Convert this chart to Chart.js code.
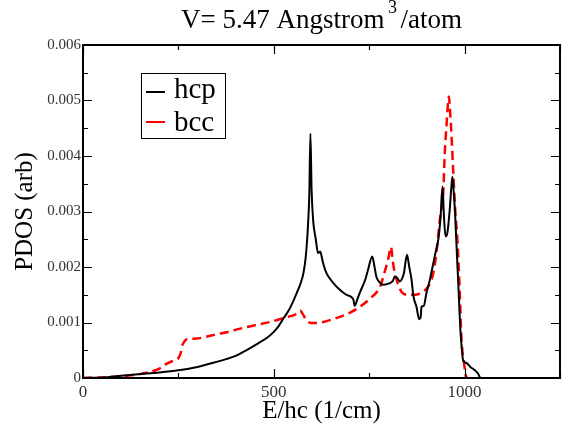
<!DOCTYPE html>
<html>
<head>
<meta charset="utf-8">
<script src="https://cdn.jsdelivr.net/npm/chart.js@4"></script>
<style>
html, body { margin: 0; padding: 0; background: #fff; }
</style>
</head>
<body>
<canvas id="pdosChart" width="572" height="431"></canvas>
<script>
// hcp phonon DOS (energy in 1/cm)
const hcpE = [0, 50, 100, 150, 200, 250, 300, 350, 375, 400, 420, 438, 460, 485, 500, 513, 526, 540, 552,
  560, 570, 578, 584, 590, 593, 596,
  599, 603, 610, 616, 622, 625, 630, 638, 655, 673, 690, 703, 709, 712, 718, 725, 740, 747, 758, 764, 769,
  778, 786, 804, 812, 817, 824, 830, 841, 849, 855, 861, 866, 874, 881, 885, 887, 893, 900, 910, 918, 925,
  931, 937, 942, 946, 950, 955, 961, 966, 968, 971, 975, 980, 983, 986, 989, 993, 996, 1005, 1015, 1027,
  1035, 1041];
const hcpDos = [0, 0.00001, 0.00004, 0.00007, 0.0001, 0.00014, 0.0002, 0.00029, 0.00034, 0.0004, 0.00047,
  0.00054, 0.00063, 0.00074, 0.00083, 0.00094, 0.00108, 0.00123, 0.0014,
  0.00153, 0.0017, 0.0019, 0.0022, 0.0028, 0.0033, 0.0044,
  0.0034, 0.00285, 0.0025, 0.00225, 0.00228, 0.0022, 0.00205, 0.00189, 0.00172, 0.00159, 0.0015, 0.00146,
  0.0014, 0.0013, 0.0014, 0.00153, 0.00178, 0.00195, 0.00219, 0.002, 0.00182,
  0.00172, 0.00168, 0.00171, 0.00175, 0.00183, 0.0018, 0.00174, 0.00189, 0.00222, 0.002, 0.00177, 0.00147,
  0.00128, 0.00106, 0.0011, 0.00128, 0.0013, 0.00153, 0.0018, 0.00207, 0.0023,
  0.00249, 0.0029, 0.00345, 0.0029, 0.00255, 0.00262, 0.00303, 0.0035, 0.00362, 0.0034, 0.00297, 0.0022,
  0.00177, 0.0013, 0.00086, 0.0005, 0.00032, 0.00027, 0.0002, 0.00014,
  0.00008, 0];

// bcc phonon DOS
const bccE = [0, 50, 114, 150, 176, 200, 220, 240, 250, 256, 259, 265, 272, 298, 320, 351, 380, 412, 450,
  491, 535, 555, 565, 570, 576, 587, 600, 622, 650, 673, 700, 725, 750, 778, 790, 800, 807, 812, 817, 825,
  835, 852, 870, 891, 905, 918, 926, 935, 944, 948, 953, 957, 959, 961, 964, 970, 976, 981, 986, 992, 998,
  1003, 1006];
const bccDos = [0, 0.00001, 0.00004, 0.00007, 0.00011, 0.00017, 0.00026, 0.00032, 0.00036, 0.00045,
  0.00056, 0.00065, 0.0007, 0.00071, 0.00074, 0.00079, 0.00083, 0.00089, 0.00095,
  0.00101, 0.0011, 0.00114, 0.0012, 0.00121, 0.00115, 0.00103, 0.00099, 0.001, 0.00105, 0.0011, 0.00118,
  0.00128, 0.00142, 0.00164, 0.0019, 0.00215, 0.00236, 0.0021, 0.00189, 0.0017,
  0.00155, 0.0015, 0.0015, 0.00156, 0.00165, 0.00189, 0.00225, 0.00285, 0.00333, 0.00405, 0.00459, 0.005,
  0.00507, 0.0049, 0.00459, 0.00375, 0.00297, 0.00249, 0.00177, 0.00068, 0.0003,
  0.00005, 0];

const xTickLabels = [0, 500, 1000];
const yTickLabels = [0, 0.001, 0.002, 0.003, 0.004, 0.005, 0.006];

const serif = '"Liberation Serif", "DejaVu Serif", serif';

function toPoints(xs, ys) {
  return xs.map((x, i) => ({ x: x, y: ys[i] }));
}

// frame with inward ticks on all four sides, like xmgrace
const framePlugin = {
  id: 'frame',
  afterDatasetsDraw(chart) {
    const ctx = chart.ctx;
    const a = chart.chartArea;
    const xs = chart.scales.x;
    const ys = chart.scales.y;
    ctx.save();
    ctx.strokeStyle = '#000';
    ctx.lineWidth = 1.2;
    xs.ticks.forEach(t => {
      const px = Math.round(xs.getPixelForValue(t.value)) + 0.5;
      const len = xTickLabels.includes(t.value) ? 9 : 5;
      ctx.beginPath();
      ctx.moveTo(px, a.bottom); ctx.lineTo(px, a.bottom - len);
      ctx.moveTo(px, a.top); ctx.lineTo(px, a.top + len);
      ctx.stroke();
    });
    ys.ticks.forEach(t => {
      const py = Math.round(ys.getPixelForValue(t.value)) + 0.5;
      const major = yTickLabels.some(v => Math.abs(v - t.value) < 1e-9);
      const len = major ? 9 : 5;
      ctx.beginPath();
      ctx.moveTo(a.left, py); ctx.lineTo(a.left + len, py);
      ctx.moveTo(a.right, py); ctx.lineTo(a.right - len, py);
      ctx.stroke();
    });
    ctx.lineWidth = 2;
    ctx.strokeRect(a.left, a.top, a.right - a.left, a.bottom - a.top);
    ctx.restore();
  }
};

// title with a raised "3", and the boxed legend inside the plot
const labelsPlugin = {
  id: 'labels',
  afterDraw(chart) {
    const ctx = chart.ctx;
    const a = chart.chartArea;
    ctx.save();
    ctx.fillStyle = '#000';
    ctx.textBaseline = 'alphabetic';
    const main = 'V= 5.47 Angstrom';
    const tail = '/atom';
    ctx.font = '27px ' + serif;
    const w1 = ctx.measureText(main).width;
    const w3 = ctx.measureText(tail).width;
    ctx.font = '18px ' + serif;
    const w2 = ctx.measureText('3').width;
    const gap = 3.5;
    let x = (a.left + a.right) / 2 - (w1 + w2 + w3 + 2 * gap) / 2;
    const base = 28;
    ctx.font = '27px ' + serif;
    ctx.fillText(main, x, base);
    x += w1 + gap;
    ctx.font = '18px ' + serif;
    ctx.fillText('3', x, 13);
    x += w2 + gap;
    ctx.font = '27px ' + serif;
    ctx.fillText(tail, x, base);

    // legend
    const bx = 141, by = 73, bw = 84, bh = 65;
    ctx.lineWidth = 1;
    ctx.strokeStyle = '#000';
    ctx.strokeRect(bx + 0.5, by + 0.5, bw, bh);
    ctx.font = '29px ' + serif;
    const rowLine = [92, 122];
    const rowText = [98, 131];
    chart.data.datasets.forEach((ds, i) => {
      ctx.strokeStyle = ds.borderColor;
      ctx.lineWidth = 2;
      ctx.beginPath();
      ctx.moveTo(bx + 5, rowLine[i]); ctx.lineTo(bx + 24, rowLine[i]);
      ctx.stroke();
      ctx.fillStyle = '#000';
      ctx.fillText(ds.label, bx + 33, rowText[i]);
    });
    ctx.restore();
  }
};

new Chart(document.getElementById('pdosChart').getContext('2d'), {
  type: 'line',
  data: {
    datasets: [{
      label: 'hcp',
      data: toPoints(hcpE, hcpDos),
      borderColor: '#000000',
      borderWidth: 2,
      pointRadius: 0,
      cubicInterpolationMode: 'monotone'
    }, {
      label: 'bcc',
      data: toPoints(bccE, bccDos),
      borderColor: '#ff0000',
      borderWidth: 2.5,
      borderDash: [9, 5],
      pointRadius: 0,
      cubicInterpolationMode: 'monotone'
    }]
  },
  options: {
    responsive: false,
    animation: false,
    layout: { padding: { top: 45, right: 12, left: 0, bottom: 0 } },
    plugins: {
      legend: { display: false },
      title: { display: false },
      tooltip: { enabled: false }
    },
    scales: {
      x: {
        type: 'linear',
        min: 0,
        max: 1250,
        grid: { display: false, drawTicks: false },
        border: { display: false },
        ticks: {
          stepSize: 250,
          padding: 4,
          color: '#333',
          font: { family: serif, size: 17 },
          maxRotation: 0,
          callback: v => xTickLabels.includes(v) ? String(v) : ''
        },
        title: {
          display: true,
          text: 'E/hc (1/cm)',
          color: '#000',
          font: { family: serif, size: 25 },
          padding: { top: 0, bottom: 5 }
        },
        afterFit: s => { s.height = 53; }
      },
      y: {
        type: 'linear',
        min: 0,
        max: 0.006,
        grid: { display: false, drawTicks: false },
        border: { display: false },
        ticks: {
          stepSize: 0.0005,
          padding: 2,
          color: '#333',
          font: { family: serif, size: 15 },
          callback: v => {
            const m = yTickLabels.find(t => Math.abs(t - v) < 1e-9);
            return m === undefined ? '' : (m === 0 ? '0' : m.toFixed(3));
          }
        },
        title: {
          display: true,
          text: 'PDOS (arb)',
          color: '#000',
          font: { family: serif, size: 25 },
          padding: { top: 10, bottom: 0 }
        },
        afterFit: s => { s.width = 83; }
      }
    }
  },
  plugins: [framePlugin, labelsPlugin]
});
</script>
</body>
</html>
